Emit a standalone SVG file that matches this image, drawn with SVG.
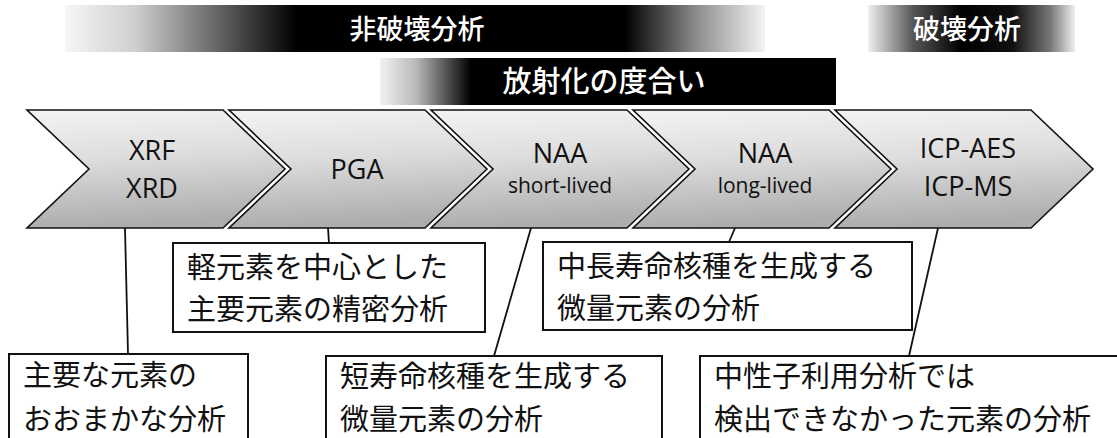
<svg xmlns="http://www.w3.org/2000/svg" width="1117" height="438" viewBox="0 0 1117 438">
<style>
.chev{fill:url(#chevFill);stroke:#111;stroke-width:1.6;stroke-linejoin:miter}
.lat{font-family:"Open Sans","Liberation Sans",sans-serif;fill:#111;text-anchor:middle}
.big{font-size:27px}
.sm{font-size:21px}
.box{fill:#fff;stroke:#111;stroke-width:2}
.jp{font-family:"Noto Sans CJK JP","Noto Sans CJK SC",sans-serif;font-size:29px;fill:#111}
.bart{font-family:"Noto Sans CJK JP","Noto Sans CJK SC",sans-serif;font-weight:500;fill:#fff;text-anchor:middle}
.conn{stroke:#111;stroke-width:1.8;fill:none}
</style>
<defs>
<linearGradient id="chevFill" x1="0" y1="0" x2="0.12" y2="1">
<stop offset="0" stop-color="#f4f4f4"/>
<stop offset="0.45" stop-color="#dcdcdc"/>
<stop offset="1" stop-color="#adadad"/>
</linearGradient>
<linearGradient id="barA" x1="0" y1="0" x2="1" y2="0">
<stop offset="0" stop-color="#f6f6f6"/>
<stop offset="0.1" stop-color="#cfcfcf"/>
<stop offset="0.33" stop-color="#000"/>
<stop offset="0.8" stop-color="#000"/>
<stop offset="0.9" stop-color="#8a8a8a"/>
<stop offset="1" stop-color="#f4f4f4"/>
</linearGradient>
<linearGradient id="barB" x1="0" y1="0" x2="1" y2="0">
<stop offset="0" stop-color="#f0f0f0"/>
<stop offset="0.22" stop-color="#555"/>
<stop offset="0.45" stop-color="#000"/>
<stop offset="0.7" stop-color="#111"/>
<stop offset="0.88" stop-color="#777"/>
<stop offset="1" stop-color="#f0f0f0"/>
</linearGradient>
<linearGradient id="barC" x1="0" y1="0" x2="1" y2="0">
<stop offset="0" stop-color="#f2f2f2"/>
<stop offset="0.08" stop-color="#b8b8b8"/>
<stop offset="0.2" stop-color="#000"/>
<stop offset="1" stop-color="#000"/>
</linearGradient>
</defs>

<g id="bar-nondestructive">
<rect x="65" y="5" width="700" height="47" fill="url(#barA)"/>
<text class="bart" x="417" y="39" font-size="27">非破壊分析</text>
</g>
<g id="bar-destructive">
<rect x="868" y="5" width="207" height="47" fill="url(#barB)"/>
<text class="bart" x="967" y="39" font-size="27">破壊分析</text>
</g>
<g id="bar-activation">
<rect x="380" y="58" width="456" height="47" fill="url(#barC)"/>
<text class="bart" x="604" y="92" font-size="29">放射化の度合い</text>
</g>

<g id="chev-xrf">
<polygon class="chev" points="27,110 223,110 285,169 223,228 27,228 89,169"/>
<text class="lat big" x="152" y="160">XRF</text>
<text class="lat big" x="152" y="198">XRD</text>
</g>
<g id="chev-pga">
<polygon class="chev" points="229,110 425,110 487,169 425,228 229,228 291,169"/>
<text class="lat big" x="357" y="179">PGA</text>
</g>
<g id="chev-naa-short">
<polygon class="chev" points="431,110 627,110 689,169 627,228 431,228 493,169"/>
<text class="lat big" x="560" y="163">NAA</text>
<text class="lat sm" x="560" y="193">short-lived</text>
</g>
<g id="chev-naa-long">
<polygon class="chev" points="633,110 829,110 891,169 829,228 633,228 695,169"/>
<text class="lat big" x="765" y="163">NAA</text>
<text class="lat sm" x="765" y="193">long-lived</text>
</g>
<g id="chev-icp">
<polygon class="chev" points="835,110 1031,110 1093,169 1031,228 835,228 897,169"/>
<text class="lat big" x="968" y="158">ICP-AES</text>
<text class="lat big" x="968" y="196">ICP-MS</text>
</g>

<g id="connectors">
<line class="conn" x1="125" y1="228" x2="128" y2="354"/>
<line class="conn" x1="328" y1="228" x2="329" y2="243"/>
<line class="conn" x1="531" y1="228" x2="494" y2="356"/>
<line class="conn" x1="735" y1="228" x2="729" y2="242"/>
<line class="conn" x1="938" y1="228" x2="909" y2="356"/>
</g>

<g id="box-pga">
<rect class="box" x="173" y="243" width="312" height="89"/>
<text class="jp" x="187" y="278">軽元素を中心とした</text>
<text class="jp" x="187" y="320">主要元素の精密分析</text>
</g>
<g id="box-naa-long">
<rect class="box" x="543" y="242" width="369" height="88"/>
<text class="jp" x="557" y="277">中長寿命核種を生成する</text>
<text class="jp" x="557" y="319">微量元素の分析</text>
</g>
<g id="box-xrf">
<rect class="box" x="9" y="354" width="239" height="100"/>
<text class="jp" x="23" y="386">主要な元素の</text>
<text class="jp" x="23" y="430">おおまかな分析</text>
</g>
<g id="box-naa-short">
<rect class="box" x="326" y="356" width="336" height="100"/>
<text class="jp" x="340" y="387">短寿命核種を生成する</text>
<text class="jp" x="340" y="430">微量元素の分析</text>
</g>
<g id="box-icp">
<rect class="box" x="700" y="356" width="430" height="100"/>
<text class="jp" x="714" y="387">中性子利用分析では</text>
<text class="jp" x="714" y="430">検出できなかった元素の分析</text>
</g>
</svg>
